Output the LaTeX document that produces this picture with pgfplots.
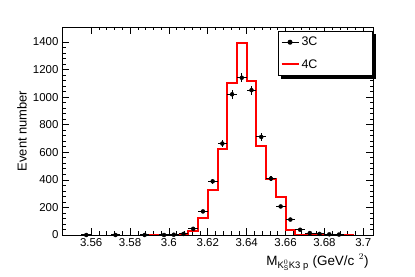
\documentclass[border=0pt]{standalone}
\usepackage{fontspec}
\setmainfont{Liberation Sans}
\usepackage{amsmath}
\usepackage{pgfplots}
\usepackage{pgfplotstable}
\pgfplotsset{compat=1.18}

\pgfplotstableread{
x y ex ey
3.5575 0 0.0025 0
3.5725 0 0.0025 0
3.5875 0 0.0025 0
3.5975 0 0.0025 0
3.6025 2 0.0025 1.4
3.6075 8 0.0025 2.8
3.6125 45 0.0025 6.7
3.6175 171 0.0025 13
3.6225 389 0.0025 20
3.6275 663 0.0025 26
3.6325 1020 0.0025 32
3.6375 1140 0.0025 34
3.6425 1050 0.0025 32
3.6475 711 0.0025 27
3.6525 409 0.0025 20
3.6575 207 0.0025 14
3.6625 112 0.0025 11
3.6675 38 0.0025 6
3.6725 14 0.0025 4
3.6775 8 0.0025 3
3.6825 5 0.0025 2
3.6875 3 0.0025 2
}\threeC

\pgfplotstableread{
x y
3.590 3
3.610 30
3.615 125
3.620 329
3.625 627
3.630 1100
3.635 1392
3.640 1115
3.645 648
3.650 409
3.655 275
3.660 35
3.665 3
3.695 3
}\fourC

\begin{document}
\begin{tikzpicture}[x=1bp,y=1bp]
\useasboundingbox (0,0) rectangle (415,277);
\begin{axis}[
  at={(62bp,42bp)}, anchor=south west,
  scale only axis, width=311bp, height=208bp,
  xmin=3.545, xmax=3.705, ymin=0, ymax=1508,
  axis line style={line width=0.9bp},
  xtick={3.56,3.58,3.6,3.62,3.64,3.66,3.68,3.7},
  xticklabels={3.56,3.58,3.6,3.62,3.64,3.66,3.68,3.7},
  ytick={0,200,400,600,800,1000,1200,1400},
  yticklabels={0,200,400,600,800,1000,1200,1400},
  minor x tick num=4, minor y tick num=4,
  tick pos=both, tick align=inside,
  major tick length=7bp, minor tick length=3.5bp,
  every tick/.style={black, line width=0.6bp},
  /pgf/number format/assume math mode=true,
  tick label style={font=\fontsize{11.5}{13}\selectfont},
  ylabel={Event number},
  ylabel style={at={(axis description cs:-0.129,0.5)}, anchor=center, rotate=0, font=\fontsize{13}{15}\selectfont},
  xlabel={M$_{\text{K}^{0}_{\text{S}}\text{K3 p}}$ (GeV/c\,\,$^{2}$)},
  xlabel style={at={(axis description cs:1,0)}, anchor=base east, yshift=-30bp, xshift=-1bp, font=\fontsize{13.5}{15}\selectfont},
  legend cell align=left,
  legend style={name=leg, at={(0.695,0.982)}, anchor=north west, draw=black, line width=0.8bp, fill=white,
    font=\fontsize{12.5}{14}\selectfont, inner xsep=2bp, inner ysep=4bp, row sep=8bp},
]
\addlegendimage{black, line width=1bp, mark=*, mark size=2bp}
\addlegendentry{\makebox[67bp][l]{3C}}
\addlegendimage{red, line width=2bp}
\addlegendentry{\makebox[67bp][l]{4C}}

\addplot[const plot, red, line width=2bp, forget plot] table[x=x, y=y] {\fourC};

\addplot[only marks, black, mark=*, mark size=2bp, forget plot,
  error bars/.cd, x dir=both, x explicit, y dir=both, y explicit,
  error mark=none, error bar style={line width=1.1bp, black}]
  table[x=x, y=y, x error=ex, y error=ey] {\threeC};
\end{axis}
\fill[black] ([xshift=3bp]leg.south west) rectangle ([xshift=3bp,yshift=-3bp]leg.south east);
\fill[black] ([yshift=-3bp]leg.north east) rectangle ([xshift=3bp,yshift=-3bp]leg.south east);
\end{tikzpicture}
\end{document}
